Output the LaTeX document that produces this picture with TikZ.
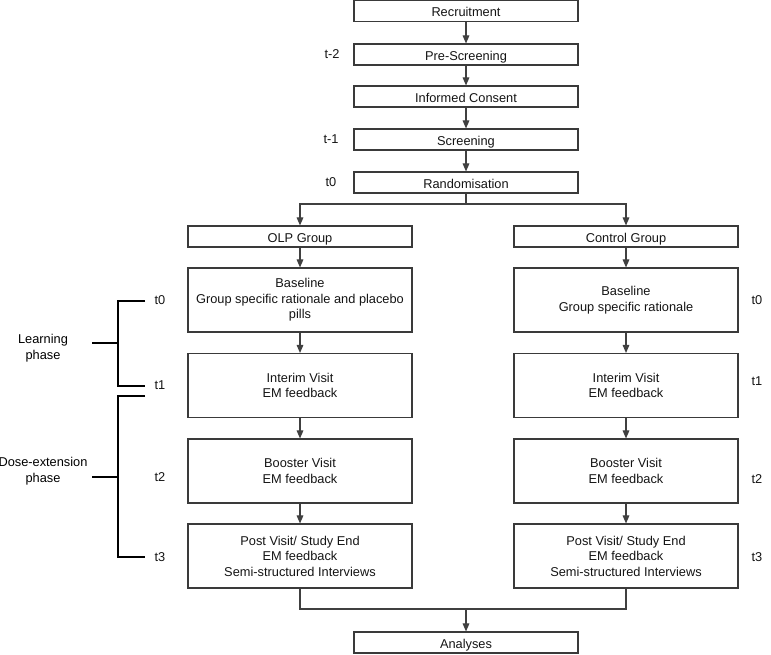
\documentclass[tikz,border=0pt]{standalone}
\usepackage{fontspec}
\setmainfont{Liberation Sans}
\usepackage{tikz}
\usetikzlibrary{arrows.meta}
\definecolor{boxgray}{RGB}{58,58,58}
\definecolor{arrowgray}{RGB}{64,64,64}
\definecolor{textblack}{RGB}{20,20,20}

\begin{document}
\begin{tikzpicture}[x=0.75pt, y=-0.75pt,
    font=\fontsize{9.6}{11.6}\selectfont\color{textblack},
    framed/.style={draw=boxgray, line width=0.85pt, minimum width=168pt, inner sep=0pt},
    stepbox/.style={framed, minimum height=15.75pt, text height=8.4pt, text depth=0pt},
    visitbox/.style={framed, minimum height=48pt, align=center},
    arr/.style={draw=arrowgray, line width=0.8pt, -{Triangle[length=6pt, width=5pt]}},
    link/.style={draw=arrowgray, line width=0.8pt},
    brace/.style={draw=black, line width=1pt},
    tlabel/.style={inner sep=1pt},
    phase/.style={align=center, inner sep=1pt, font=\fontsize{9.6}{12}\selectfont}]
    \useasboundingbox (0,0) rectangle (771,654);

    % Enrolment
    \node[stepbox] (recruit) at (466,11) {Recruitment};
    \node[stepbox] (prescreen) at (466,54.5) {Pre-Screening};
    \node[stepbox] (consent) at (466,96.5) {Informed Consent};
    \node[stepbox] (screen) at (466,139.5) {Screening};
    \node[stepbox] (random) at (466,182.5) {Randomisation};
    \node[tlabel] (tm2) at (332,54.5) {t-2};
    \node[tlabel] (tm1) at (331,139.5) {t-1};
    \node[tlabel] (tz) at (331,182.5) {t0};

    % OLP arm
    \node[stepbox] (olp) at (300,236.5) {OLP Group};
    \node[visitbox] (baseA) at (300,300) {Baseline\\Group specific rationale and placebo\\pills};
    \node[visitbox] (interimA) at (300,385.5) {Interim Visit\\EM feedback};
    \node[visitbox] (boosterA) at (300,471) {Booster Visit\\EM feedback};
    \node[visitbox] (postA) at (300,556) {Post Visit/ Study End\\EM feedback\\Semi-structured Interviews};

    % Control arm
    \node[stepbox] (ctrl) at (626,236.5) {Control Group};
    \node[visitbox] (baseB) at (626,300) {Baseline\\Group specific rationale};
    \node[visitbox] (interimB) at (626,385.5) {Interim Visit\\EM feedback};
    \node[visitbox] (boosterB) at (626,471) {Booster Visit\\EM feedback};
    \node[visitbox] (postB) at (626,556) {Post Visit/ Study End\\EM feedback\\Semi-structured Interviews};

    % Analyses
    \node[stepbox] (analyses) at (466,642.5) {Analyses};

    % Time points
    \node[tlabel] (lt0) at (160,300) {t0};
    \node[tlabel] (lt1) at (160,385) {t1};
    \node[tlabel] (lt2) at (160,477) {t2};
    \node[tlabel] (lt3) at (160,557) {t3};
    \node[tlabel] (rt0) at (757,300) {t0};
    \node[tlabel] (rt1) at (757,381) {t1};
    \node[tlabel] (rt2) at (757,479) {t2};
    \node[tlabel] (rt3) at (757,557) {t3};

    % Phases
    \node[phase] (learn) at (43,348) {Learning\\phase};
    \node[phase] (dose) at (43,471) {Dose-extension\\phase};
    \coordinate (learnTop) at (145,301);
    \coordinate (learnBot) at (145,386);
    \coordinate (learnMid) at (118,343);
    \coordinate (doseTop) at (145,396);
    \coordinate (doseBot) at (145,557);
    \coordinate (doseMid) at (118,477);
    \draw[brace] (learnTop) -- ++(-27,0) |- (learnBot);
    \draw[brace] (learnMid) -- ++(-26,0);
    \draw[brace] (doseTop) -- ++(-27,0) |- (doseBot);
    \draw[brace] (doseMid) -- ++(-26,0);

    % Arrows
    \draw[arr] (recruit) -- (prescreen);
    \draw[arr] (prescreen) -- (consent);
    \draw[arr] (consent) -- (screen);
    \draw[arr] (screen) -- (random);
    \coordinate (split) at (466,204);
    \draw[link] (random.south) -- (split);
    \draw[arr] (split) -| (olp.north);
    \draw[arr] (split) -| (ctrl.north);
    \draw[arr] (olp) -- (baseA);
    \draw[arr] (baseA) -- (interimA);
    \draw[arr] (interimA) -- (boosterA);
    \draw[arr] (boosterA) -- (postA);
    \draw[arr] (ctrl) -- (baseB);
    \draw[arr] (baseB) -- (interimB);
    \draw[arr] (interimB) -- (boosterB);
    \draw[arr] (boosterB) -- (postB);
    \coordinate (merge) at (466,609);
    \draw[link] (postA.south) |- (merge) -| (postB.south);
    \draw[arr] (merge) -- (analyses.north);
\end{tikzpicture}
\end{document}
